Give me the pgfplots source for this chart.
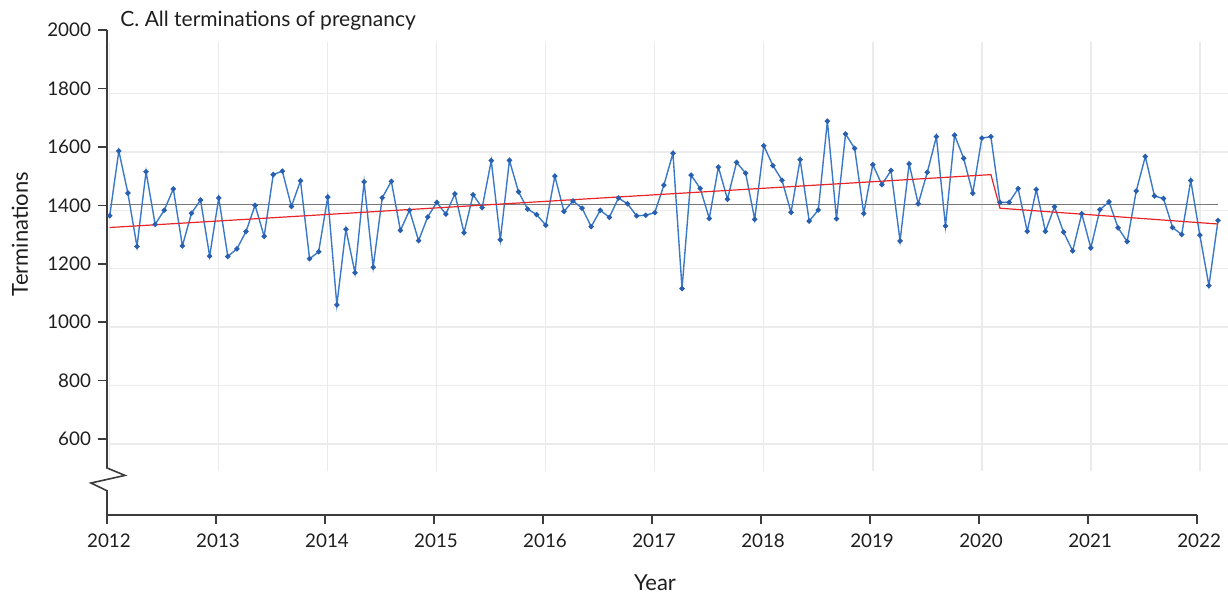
\documentclass[border=0pt]{standalone}
\usepackage{pgfplots}
\pgfplotsset{compat=1.18}
\usepackage{pgfplotstable}
\usepackage{fontspec}
\setmainfont{Lato}
\definecolor{blueline}{RGB}{58,120,200}
\definecolor{markcol}{RGB}{40,95,175}
\definecolor{redline}{RGB}{232,38,42}
\definecolor{greyline}{RGB}{120,120,120}
\definecolor{gridcol}{RGB}{235,235,235}
\definecolor{axiscol}{RGB}{60,60,60}
\definecolor{textcol}{RGB}{30,30,30}
\pgfplotstableread{
i v
0 1364
1 1586
2 1442
3 1259
4 1515
5 1335
6 1383
7 1456
8 1261
9 1373
10 1418
11 1226
12 1425
13 1225
14 1251
15 1310
16 1400
17 1294
18 1505
19 1517
20 1396
21 1484
22 1217
23 1241
24 1428
25 1059
26 1318
27 1169
28 1480
29 1188
30 1426
31 1482
32 1314
33 1383
34 1279
35 1360
36 1410
37 1370
38 1439
39 1306
40 1436
41 1392
42 1553
43 1282
44 1554
45 1446
46 1387
47 1368
48 1332
49 1500
50 1379
51 1415
52 1390
53 1327
54 1383
55 1359
56 1425
57 1405
58 1364
59 1366
60 1375
61 1469
62 1578
63 1115
64 1503
65 1458
66 1355
67 1531
68 1421
69 1547
70 1510
71 1352
72 1604
73 1536
74 1486
75 1376
76 1556
77 1346
78 1384
79 1688
80 1354
81 1644
82 1595
83 1372
84 1539
85 1471
86 1519
87 1278
88 1542
89 1405
90 1513
91 1635
92 1329
93 1640
94 1561
95 1441
96 1630
97 1635
98 1410
99 1410
100 1457
101 1311
102 1454
103 1311
104 1395
105 1308
106 1244
107 1371
108 1254
109 1385
110 1412
111 1323
112 1276
113 1449
114 1567
115 1432
116 1423
117 1324
118 1300
119 1485
120 1298
121 1125
122 1348
}\monthly
\begin{document}
\begin{tikzpicture}
\path[use as bounding box] (-53.5pt,-40.5pt) rectangle (560.5pt,257.5pt);
\begin{axis}[
  at={(0pt,0pt)}, anchor=south west,
  width=560.5pt, height=242.5pt, scale only axis,
  xmin=-0.3, xmax=123.1, ymin=340, ymax=2000,
  clip=false,
  axis x line*=bottom, axis y line*=left,
  axis line style={draw=none},
  tick align=outside,
  major tick length=4.5pt,
  tick style={draw=axiscol, line width=0.8pt},
  xtick={-0.3,11.7,23.7,35.7,47.7,59.7,71.7,83.7,95.7,107.7,119.7},
  xticklabels={2012,2013,2014,2015,2016,2017,2018,2019,2020,2021,2022},
  ytick={600,800,1000,1200,1400,1600,1800,2000},
  /pgf/number format/assume math mode=true,
  /pgf/number format/1000 sep={},
  ticklabel style={font=\fontsize{9.4}{10}\selectfont, text=textcol},
  xticklabel style={yshift=-1.5pt, xshift=1pt},
]
% grid
\pgfplotsinvokeforeach{0,12,24,36,48,60,72,84,96,108,120}{
  \draw[gridcol, line width=0.7pt] (axis cs:#1,492) -- (axis cs:#1,1959);
}
\pgfplotsinvokeforeach{583,783,983,1183,1383,1583,1783}{
  \draw[gridcol, line width=0.7pt] (axis cs:0.03,#1) -- (axis cs:123.1,#1);
}
\addplot[greyline, line width=0.6pt, no marks] coordinates {(0,1403) (122,1403)};
\addplot[blueline, line width=0.7pt, mark=*, mark size=0.95pt, mark options={fill=markcol, draw=markcol}] table[x=i, y=v] {\monthly};
\addplot[redline, line width=0.6pt, no marks] coordinates {(0,1324) (97,1505) (98,1390) (122,1336)};
\draw[axiscol, line width=0.8pt] (axis cs:-0.3,2000) -- (axis cs:-0.3,501) -- ([xshift=9pt]axis cs:-0.3,475.5) -- ([xshift=-8pt]axis cs:-0.3,449.5) -- (axis cs:-0.3,423) -- (axis cs:-0.3,340) -- (axis cs:119.7,340);
\end{axis}
\node[anchor=base west, font=\fontsize{10.5}{12}\selectfont, text=textcol, inner sep=0pt] at (6.5pt,244.2pt) {C. All terminations of pregnancy};
\node[rotate=90, font=\fontsize{11}{13}\selectfont, text=textcol] at (-43.5pt,140.5pt) {Terminations};
\node[font=\fontsize{11}{13}\selectfont, text=textcol] at (274pt,-34pt) {Year};
\end{tikzpicture}
\end{document}
